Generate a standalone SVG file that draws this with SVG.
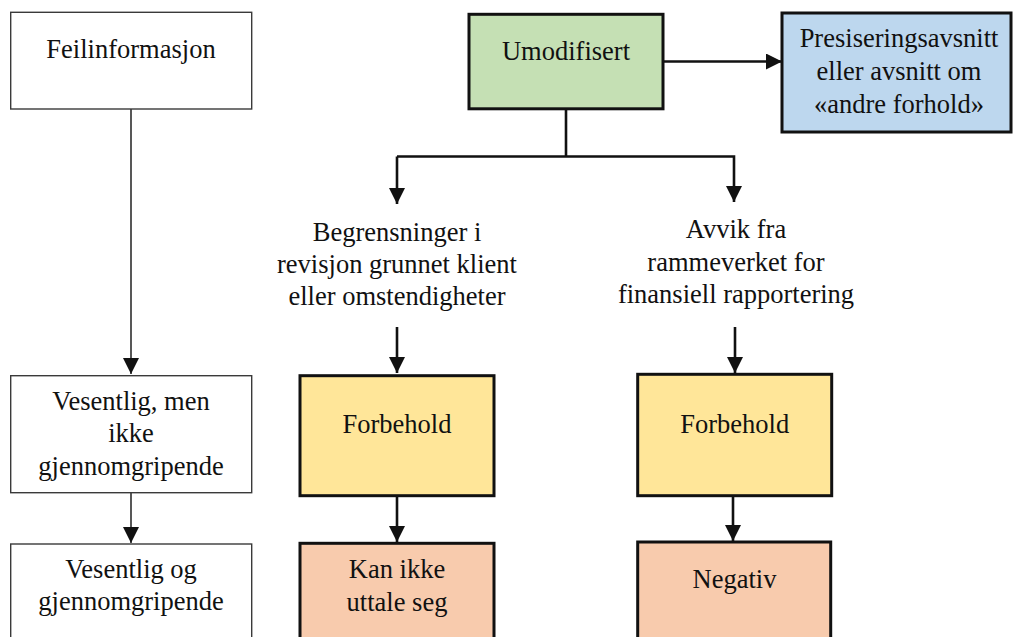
<svg xmlns="http://www.w3.org/2000/svg" width="1014" height="637" viewBox="0 0 1014 637" font-family="Liberation Serif, serif">
<style>
  text { font-size: 26.5px; fill: #111; text-anchor: middle; }
  .thin { fill: #fff; stroke: #3a3a3a; stroke-width: 1.4; }
  .thick { stroke: #111; stroke-width: 3; }
  .green { fill: #C5E0B4; }
  .blue { fill: #BDD7EE; }
  .yellow { fill: #FFE699; }
  .orange { fill: #F8CBAD; }
  .c1 { stroke: #111; stroke-width: 1.4; fill: none; }
  .c2 { stroke: #111; stroke-width: 2.6; fill: none; }
</style>
<defs>
  <marker id="ah" viewBox="0 0 16 16" refX="16" refY="8" markerWidth="16" markerHeight="16" markerUnits="userSpaceOnUse" orient="auto">
    <path d="M0,0 L16,8 L0,16 Z" fill="#111"/>
  </marker>
</defs>
<g id="connectors">
  <line class="c1" x1="131" y1="109" x2="131" y2="374" marker-end="url(#ah)"/>
  <line class="c1" x1="131" y1="493" x2="131" y2="543" marker-end="url(#ah)"/>
  <line class="c2" x1="663" y1="61.5" x2="782" y2="61.5" marker-end="url(#ah)"/>
  <polyline class="c2" points="566,109 566,156.5"/>
  <polyline class="c2" points="397,156.5 734,156.5 734,202" marker-end="url(#ah)"/>
  <line class="c2" x1="397" y1="156.5" x2="397" y2="204" marker-end="url(#ah)"/>
  <line class="c2" x1="397" y1="327" x2="397" y2="373" marker-end="url(#ah)"/>
  <line class="c2" x1="735" y1="327" x2="735" y2="373" marker-end="url(#ah)"/>
  <line class="c2" x1="397" y1="496" x2="397" y2="542" marker-end="url(#ah)"/>
  <line class="c2" x1="733" y1="496" x2="733" y2="541" marker-end="url(#ah)"/>
</g>
<g id="feilinformasjon">
  <rect class="thin" x="10.7" y="12.3" width="241" height="96.7"/>
  <text x="131" y="58" font-family="Liberation Serif, serif">Feilinformasjon</text>
</g>
<g id="vesentlig-ikke">
  <rect class="thin" x="10.7" y="375.7" width="241" height="117"/>
  <text x="131" y="410" font-family="Liberation Serif, serif">Vesentlig, men</text>
  <text x="131" y="442" font-family="Liberation Serif, serif">ikke</text>
  <text x="131" y="475" font-family="Liberation Serif, serif">gjennomgripende</text>
</g>
<g id="vesentlig-og">
  <rect class="thin" x="10.7" y="544" width="241" height="110"/>
  <text x="131" y="578" font-family="Liberation Serif, serif">Vesentlig og</text>
  <text x="131" y="610" font-family="Liberation Serif, serif">gjennomgripende</text>
</g>
<g id="umodifisert">
  <rect class="thick green" x="469" y="14.3" width="194" height="94.5"/>
  <text x="566" y="60" font-family="Liberation Serif, serif">Umodifisert</text>
</g>
<g id="presisering">
  <rect class="thick blue" x="782" y="13" width="229" height="119"/>
  <text x="899" y="47" font-family="Liberation Serif, serif">Presiseringsavsnitt</text>
  <text x="899" y="80" font-family="Liberation Serif, serif">eller avsnitt om</text>
  <text x="899" y="113" font-family="Liberation Serif, serif">«andre forhold»</text>
</g>
<g id="begrensninger">
  <text x="397" y="241" font-family="Liberation Serif, serif">Begrensninger i</text>
  <text x="397" y="273" font-family="Liberation Serif, serif">revisjon grunnet klient</text>
  <text x="397" y="305" font-family="Liberation Serif, serif">eller omstendigheter</text>
</g>
<g id="avvik">
  <text x="736" y="238" font-family="Liberation Serif, serif">Avvik fra</text>
  <text x="736" y="271" font-family="Liberation Serif, serif">rammeverket for</text>
  <text x="736" y="303" font-family="Liberation Serif, serif">finansiell rapportering</text>
</g>
<g id="forbehold-1">
  <rect class="thick yellow" x="300" y="375.7" width="194" height="120"/>
  <text x="397" y="433" font-family="Liberation Serif, serif">Forbehold</text>
</g>
<g id="forbehold-2">
  <rect class="thick yellow" x="637.7" y="374.3" width="194" height="121.4"/>
  <text x="734.7" y="433" font-family="Liberation Serif, serif">Forbehold</text>
</g>
<g id="kan-ikke">
  <rect class="thick orange" x="300" y="543.3" width="194" height="110"/>
  <text x="397" y="578" font-family="Liberation Serif, serif">Kan ikke</text>
  <text x="397" y="611" font-family="Liberation Serif, serif">uttale seg</text>
</g>
<g id="negativ">
  <rect class="thick orange" x="637.7" y="542" width="193" height="110"/>
  <text x="734.5" y="588" font-family="Liberation Serif, serif">Negativ</text>
</g>
</svg>
